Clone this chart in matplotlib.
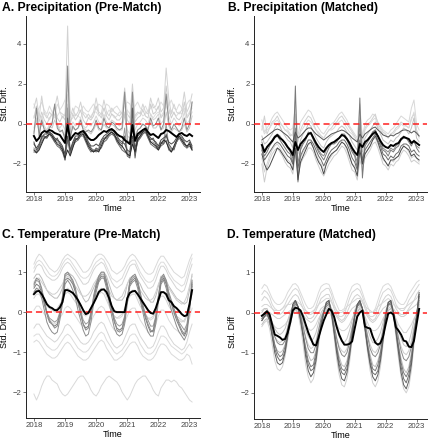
import numpy as np
import matplotlib
matplotlib.use("Agg")
import matplotlib.pyplot as plt

plt.rcParams["font.family"] = ["Liberation Sans", "DejaVu Sans"]

# Monthly time axis: Jan 2018 .. Feb 2023 (decimal years)
time = 2018 + np.arange(62) / 12
x_ticks = [2018, 2019, 2020, 2021, 2022, 2023]

# ---------------- A. Precipitation (Pre-Match) ----------------
precip_pre_mean = [
    -0.6, -0.85, -0.7, -0.45, -0.35, -0.4, -0.3, -0.35, -0.45, -0.5, -0.55, -0.75,
    -0.95, -0.05, -0.8, -0.6, -0.45, -0.5, -0.4, -0.35, -0.5, -0.7, -0.8, -0.8,
    -0.7, -0.55, -0.45, -0.35, -0.4, -0.3, -0.25, -0.35, -0.5, -0.6, -0.65, -0.8,
    -0.9, -1.0, -0.05, -0.85, -0.5, -0.4, -0.3, -0.22, -0.4, -0.55, -0.5, -0.6,
    -0.7, -0.5, -0.45, -0.3, -0.35, -0.45, -0.55, -0.65, -0.5, -0.45, -0.55, -0.6,
    -0.5, -0.6]
precip_pre_units = [
    [1.0, 0.6, 0.8, 1.1, 0.7, 0.5, 0.9, 0.6, 0.4, 1.0, 0.7, 0.9,
     1.2, 1.8, 0.6, 0.5, 0.9, 0.8, 0.6, 0.9, 0.7, 0.6, 0.8, 1.0,
     0.7, 1.0, 0.9, 0.7, 1.0, 0.9, 0.6, 0.8, 0.9, 0.7, 0.5, 0.9,
     1.1, 1.0, 0.7, 0.9, 1.1, 0.8, 0.7, 0.9, 0.6, 0.8, 1.0, 0.7,
     0.8, 1.1, 0.9, 1.4, 0.9, 1.2, 0.8, 0.7, 1.0, 0.8, 0.6, 1.0,
     1.2, 0.9],
    [0.4, 0.2, 0.5, 0.3, 0.6, 0.4, 0.2, 0.5, 0.3, 0.4, 0.6, 0.3,
     0.5, 0.9, 0.2, 0.3, 0.5, 0.4, 0.3, 0.6, 0.5, 0.3, 0.4, 0.6,
     0.6, 0.4, 0.5, 0.3, 0.5, 0.7, 0.5, 0.3, 0.4, 0.6, 0.5, 0.4,
     0.7, 0.5, 0.9, 0.3, 0.5, 0.6, 0.4, 0.5, 0.7, 0.5, 0.3, 0.5,
     0.6, 0.4, 0.6, 0.9, 0.5, 0.7, 0.5, 0.4, 0.6, 0.5, 0.8, 0.4,
     0.6, 0.8],
    [0.8, 1.3, 0.3, 1.4, 0.5, 0.3, 0.6, 0.4, 0.8, 1.4, 0.6, 0.5,
     0.4, 4.9, 0.3, 0.8, 0.4, 0.6, 1.1, 0.5, 0.3, 0.5, 0.3, 0.6,
     1.3, 0.6, 0.5, 1.2, 0.6, 0.4, 0.8, 0.6, 0.5, 0.4, 0.6, 1.8,
     0.5, 0.3, 2.0, 0.4, 0.6, 0.5, 1.0, 0.6, 0.5, 1.3, 0.8, 0.9,
     1.3, 0.6, 0.8, 2.8, 1.3, 0.5, 1.0, 0.6, 0.5, 0.7, 1.6, 0.6,
     0.9, 1.5],
    [0.3, 0.9, 0.1, 0.6, 0.2, 0.0, 0.3, 0.5, 0.9, 0.3, 0.1, 0.4,
     0.2, 2.2, 0.0, 0.5, 0.2, 0.4, 0.7, 0.2, 0.0, 0.3, 0.2, 0.4,
     0.9, 0.5, 0.3, 0.8, 0.4, 0.2, 0.5, 0.4, 0.2, 0.2, 0.4, 1.2,
     0.2, 0.0, 1.5, 0.1, 0.3, 0.4, 0.7, 0.4, 0.3, 1.0, 0.5, 0.6,
     0.9, 0.3, 0.5, 1.9, 0.8, 0.3, 0.6, 0.3, 0.2, 0.4, 1.1, 0.3,
     0.5, 1.1],
    [-0.2, 0.3, -0.3, 0.4, -0.1, -0.3, 0.0, 0.1, 0.5, 0.0, -0.2, 0.0,
     -0.3, 1.5, -0.4, 0.1, -0.1, 0.0, 0.3, -0.1, -0.2, 0.0, -0.1, 0.1,
     0.4, 0.1, 0.0, 0.5, 0.1, 0.0, 0.2, 0.1, 0.0, -0.1, 0.1, 0.6,
     -0.3, -0.5, 1.0, -0.3, 0.0, 0.1, 0.3, 0.2, 0.0, 0.5, 0.2, 0.3,
     0.5, 0.0, 0.2, 1.2, 0.4, 0.0, 0.3, 0.1, -0.1, 0.1, 0.6, 0.0,
     0.2, 0.6],
    [-0.4, 0.2, -0.4, 0.0, -0.2, -0.4, -0.1, -0.2, 0.2, -0.1, -0.3, -0.4,
     -0.6, 1.0, -0.5, -0.2, -0.3, -0.2, 0.0, -0.2, -0.3, -0.4, -0.5, -0.3,
     0.0, -0.3, -0.3, 0.0, -0.2, -0.2, 0.0, -0.1, -0.3, -0.3, -0.3, 0.5,
     -0.6, -0.7, 0.6, -0.6, -0.3, -0.2, 0.0, -0.1, -0.2, 0.1, -0.2, -0.2,
     0.0, -0.3, -0.2, 0.6, -0.1, -0.4, -0.2, -0.3, -0.4, -0.3, 0.0, -0.4,
     -0.2, 0.4],
    [-0.5, 0.8, -0.6, 0.2, -0.3, -0.5, -0.2, 0.0, 1.0, -0.2, -0.4, -0.3,
     -0.8, 2.9, -0.7, -0.1, -0.3, -0.2, 0.2, -0.3, -0.4, -0.3, -0.4, -0.2,
     0.2, -0.2, -0.3, 0.3, -0.1, -0.2, 0.1, 0.0, -0.2, -0.3, -0.2, 1.6,
     -0.8, -1.0, 1.6, -0.8, -0.3, -0.2, 0.0, -0.1, -0.3, 0.3, -0.1, 0.0,
     0.3, -0.3, 0.0, 1.5, 0.1, -0.3, 0.0, -0.2, -0.4, -0.2, 0.3, -0.3,
     0.0, 1.1],
    [-1.2, -1.4, -1.1, -0.8, -0.6, -0.7, -0.5, -0.6, -0.7, -0.9, -1.0, -1.2,
     -1.6, 0.8, -1.5, -1.1, -0.8, -0.7, -0.5, -0.5, -0.8, -1.0, -1.2, -1.3,
     -1.3, -1.2, -1.0, -0.8, -0.7, -0.5, -0.4, -0.5, -0.8, -1.0, -1.2, -0.2,
     -1.4, -1.5, 0.2, -1.6, -0.8, -0.7, -0.5, -0.4, -0.7, -0.9, -0.9, -1.1,
     -1.2, -1.0, -0.9, 0.0, -1.1, -1.3, -1.2, -0.9, -0.7, -0.8, -1.0, -1.1,
     -1.0, -1.2],
    [-0.9, -1.3, -1.1, -0.6, -0.6, -0.7, -0.4, -0.6, -0.9, -0.7, -1.0, -1.2,
     -1.8, 0.3, -1.4, -1.0, -0.7, -0.8, -0.6, -0.5, -0.7, -1.0, -1.2, -1.4,
     -1.2, -1.3, -0.9, -0.7, -0.7, -0.5, -0.4, -0.6, -0.7, -0.9, -1.0, -0.6,
     -1.6, -1.7, 0.8, -1.7, -0.7, -0.6, -0.4, -0.4, -0.6, -0.8, -0.7, -1.0,
     -1.2, -0.9, -1.0, -0.5, -1.0, -1.2, -1.3, -0.9, -0.6, -0.7, -0.9, -1.2,
     -0.9, -1.2],
    [-1.4, -1.4, -1.2, -0.9, -0.7, -0.7, -0.5, -0.7, -0.9, -1.1, -1.2, -1.4,
     -1.8, -0.8, -1.5, -1.1, -0.9, -0.8, -0.6, -0.6, -0.9, -1.2, -1.4, -1.3,
     -1.4, -1.3, -1.2, -0.9, -0.8, -0.6, -0.5, -0.6, -0.9, -1.1, -1.3, -1.4,
     -1.5, -1.6, -0.8, -1.5, -0.9, -0.7, -0.5, -0.4, -0.7, -1.0, -1.1, -1.2,
     -1.3, -1.1, -1.0, -0.8, -1.3, -1.4, -1.2, -0.9, -0.7, -0.9, -1.1, -1.2,
     -1.1, -1.3],
    [-1.0, -1.2, -1.0, -0.7, -0.5, -0.5, -0.4, -0.5, -0.7, -0.8, -0.9, -1.1,
     -1.5, -0.6, -1.3, -0.9, -0.6, -0.6, -0.4, -0.4, -0.6, -0.9, -1.1, -1.1,
     -1.0, -1.1, -0.8, -0.6, -0.5, -0.4, -0.3, -0.4, -0.6, -0.8, -0.9, -1.0,
     -1.3, -1.4, -0.6, -1.2, -0.6, -0.5, -0.3, -0.25, -0.5, -0.7, -0.8, -0.9,
     -1.1, -0.8, -0.7, -0.6, -0.9, -1.0, -0.9, -0.7, -0.5, -0.6, -0.8, -0.9,
     -0.8, -1.1],
    [-1.3, -1.45, -1.3, -1.0, -0.7, -0.6, -0.5, -0.6, -0.8, -1.0, -1.1, -1.3,
     -1.7, -1.3, -1.6, -1.2, -0.8, -0.7, -0.5, -0.5, -0.8, -1.1, -1.3, -1.4,
     -1.3, -1.4, -1.1, -0.8, -0.6, -0.5, -0.4, -0.5, -0.8, -1.0, -1.1, -1.3,
     -1.5, -1.6, -1.0, -1.4, -0.8, -0.6, -0.4, -0.3, -0.6, -0.9, -1.0, -1.1,
     -1.3, -1.0, -0.8, -0.9, -1.2, -1.4, -1.1, -0.8, -0.6, -0.8, -1.0, -1.1,
     -1.0, -1.3],
]
precip_pre_colors = ["#dcdcdc", "#dedede", "#d2d2d2", "#cdcdcd", "#d6d6d6",
                     "#c8c8c8", "#8a8a8a", "#9a9a9a", "#5a5a5a", "#6a6a6a",
                     "#4a4a4a", "#2a2a2a"]

# ---------------- B. Precipitation (Matched) ----------------
precip_match_mean = [
    -1.05, -1.4, -1.15, -1.0, -0.85, -0.65, -0.55, -0.7, -0.8, -0.95, -1.15, -1.3,
    -1.55, -0.9, -1.3, -1.0, -0.85, -0.7, -0.5, -0.45, -0.7, -0.95, -1.15, -1.3,
    -1.4, -1.2, -1.05, -0.95, -0.9, -0.8, -0.7, -0.55, -0.6, -0.75, -0.95, -1.2,
    -1.4, -1.55, -1.0, -1.15, -0.9, -0.8, -0.65, -0.5, -0.4, -0.6, -0.85, -1.05,
    -1.15, -1.2, -1.05, -1.1, -1.0, -0.95, -0.75, -0.65, -0.7, -0.75, -0.95, -0.85,
    -0.95, -1.05]
precip_match_units = [
    [0.2, -0.4, -0.2, 0.0, 0.3, 0.5, 0.6, 0.4, 0.2, 0.0, -0.2, -0.3,
     -0.2, 0.8, -0.6, 0.1, 0.3, 0.5, 0.7, 0.6, 0.3, 0.0, -0.2, -0.4,
     -0.5, -0.3, -0.1, 0.0, 0.1, 0.3, 0.5, 0.6, 0.4, 0.2, -0.1, -0.3,
     -0.5, -0.7, 0.6, -0.6, 0.0, 0.2, 0.3, 0.5, 0.4, 0.1, -0.1, -0.3,
     -0.4, -0.5, -0.3, -0.2, 0.0, 0.2, 0.4, 0.3, 0.2, 0.1, 0.8, 1.2,
     0.0, -0.3],
    [-0.3, 0.4, -0.5, -0.2, 0.1, 0.2, 0.4, 0.1, -0.1, -0.3, -0.4, -0.6,
     -0.5, 1.2, -0.9, -0.3, 0.0, 0.2, 0.4, 0.3, 0.0, -0.3, -0.5, -0.6,
     -0.7, -0.5, -0.3, -0.2, 0.0, 0.1, 0.3, 0.4, 0.2, 0.0, -0.2, -0.4,
     -0.6, -0.9, 1.0, -1.0, -0.2, 0.0, 0.1, 0.3, 0.5, 0.0, -0.2, -0.4,
     -0.5, -0.7, -0.5, -0.4, -0.2, -0.1, 0.1, 0.0, -0.1, -0.2, 0.3, 0.5,
     -0.3, -0.6],
    [-0.1, -0.5, -0.3, -0.2, 0.0, 0.1, 0.2, 0.0, -0.1, -0.3, -0.3, -0.5,
     -0.6, 0.4, -0.8, -0.4, -0.2, 0.0, 0.2, 0.1, -0.1, -0.3, -0.4, -0.6,
     -0.7, -0.5, -0.3, -0.3, -0.2, 0.0, 0.1, 0.2, 0.0, -0.2, -0.4, -0.5,
     -0.7, -0.8, 0.4, -0.9, -0.3, -0.1, 0.0, 0.2, 0.3, -0.1, -0.3, -0.5,
     -0.6, -0.7, -0.5, -0.5, -0.3, -0.2, 0.0, -0.1, -0.1, -0.2, 0.2, 0.6,
     -0.4, -0.7],
    [-0.6, -1.0, -0.9, -0.7, -0.5, -0.2, 0.0, -0.1, -0.4, -0.6, -0.8, -0.9,
     -1.2, 0.5, -1.5, -0.8, -0.5, -0.3, 0.0, -0.1, -0.4, -0.7, -0.9, -1.1,
     -1.2, -0.9, -0.7, -0.6, -0.5, -0.4, -0.2, -0.1, -0.2, -0.4, -0.6, -0.9,
     -1.1, -1.3, 0.3, -1.4, -0.7, -0.5, -0.3, -0.1, 0.1, -0.2, -0.5, -0.8,
     -0.9, -1.0, -0.8, -0.9, -0.7, -0.6, -0.4, -0.2, -0.3, -0.5, -0.2, 0.3,
     -0.7, -0.9],
    [-2.0, -2.9, -2.2, -1.8, -1.5, -1.3, -1.2, -1.4, -1.6, -1.9, -2.1, -2.2,
     -2.5, -1.5, -2.6, -2.0, -1.7, -1.5, -1.2, -1.2, -1.4, -1.8, -2.1, -2.4,
     -2.6, -2.3, -2.0, -1.8, -1.6, -1.5, -1.3, -1.1, -1.2, -1.5, -1.9, -2.3,
     -2.4, -2.8, -1.8, -2.2, -1.7, -1.5, -1.3, -1.0, -0.9, -1.2, -1.6, -2.0,
     -2.1, -2.3, -2.0, -2.1, -1.9, -1.8, -1.5, -1.3, -1.4, -1.6, -1.9, -1.8,
     -1.9, -2.0],
    [-1.7, -2.4, -2.0, -1.6, -1.3, -1.1, -1.0, -1.2, -1.4, -1.6, -1.8, -1.9,
     -2.2, -1.0, -2.4, -1.7, -1.4, -1.2, -1.0, -1.0, -1.2, -1.5, -1.8, -2.0,
     -2.3, -2.0, -1.8, -1.6, -1.4, -1.3, -1.1, -0.9, -1.0, -1.3, -1.7, -2.0,
     -2.1, -2.5, -1.4, -2.4, -1.5, -1.3, -1.1, -0.8, -0.7, -1.0, -1.4, -1.8,
     -1.9, -2.1, -1.8, -1.9, -1.7, -1.6, -1.3, -1.1, -1.2, -1.4, -1.7, -1.6,
     -1.7, -1.9],
    [-0.9, -1.3, -1.2, -1.0, -0.8, -0.6, -0.5, -0.6, -0.8, -1.0, -1.2, -1.4,
     -1.7, -0.2, -2.0, -1.2, -0.9, -0.7, -0.5, -0.4, -0.7, -1.0, -1.3, -1.5,
     -1.6, -1.3, -1.1, -1.0, -0.9, -0.8, -0.7, -0.5, -0.5, -0.7, -1.0, -1.3,
     -1.5, -1.9, 0.0, -2.0, -1.0, -0.8, -0.6, -0.4, -0.3, -0.6, -0.9, -1.2,
     -1.3, -1.4, -1.2, -1.3, -1.1, -1.0, -0.8, -0.6, -0.7, -0.8, -1.0, -0.9,
     -1.1, -1.2],
    [-1.2, -1.6, -1.4, -1.1, -0.9, -0.7, -0.6, -0.8, -1.0, -1.2, -1.4, -1.5,
     -2.0, 1.9, -2.9, -1.3, -1.0, -0.8, -0.4, -0.5, -0.8, -1.1, -1.4, -1.6,
     -1.8, -1.5, -1.2, -1.0, -1.0, -0.9, -0.7, -0.5, -0.6, -0.8, -1.1, -1.4,
     -1.6, -2.2, 1.3, -2.7, -1.1, -0.9, -0.7, -0.4, -0.3, -0.6, -1.0, -1.3,
     -1.4, -1.6, -1.3, -1.4, -1.2, -1.1, -0.8, -0.7, -0.7, -0.9, -1.1, -0.8,
     -1.2, -1.4],
    [-1.3, -1.8, -1.6, -1.4, -1.2, -1.0, -0.9, -1.0, -1.2, -1.4, -1.6, -1.7,
     -2.0, -0.5, -2.2, -1.6, -1.3, -1.1, -0.8, -0.8, -1.0, -1.3, -1.6, -1.8,
     -2.1, -1.8, -1.5, -1.3, -1.2, -1.1, -0.9, -0.8, -0.8, -1.0, -1.3, -1.7,
     -1.9, -2.3, -0.8, -1.8, -1.3, -1.1, -0.9, -0.7, -0.5, -0.8, -1.1, -1.5,
     -1.6, -1.8, -1.6, -1.7, -1.5, -1.4, -1.1, -1.0, -1.0, -1.1, -1.4, -1.3,
     -1.5, -1.6],
    [-1.5, -2.0, -2.3, -2.1, -1.8, -1.5, -1.2, -1.3, -1.5, -1.7, -1.9, -2.0,
     -2.3, -1.2, -2.8, -1.9, -1.6, -1.3, -1.0, -0.9, -1.2, -1.6, -1.9, -2.1,
     -2.5, -2.0, -1.7, -1.5, -1.4, -1.3, -1.1, -0.9, -1.0, -1.2, -1.6, -2.0,
     -2.2, -2.6, -1.3, -2.0, -1.5, -1.3, -1.1, -0.8, -0.6, -0.9, -1.3, -1.7,
     -1.9, -2.1, -1.8, -1.8, -1.7, -1.6, -1.3, -1.1, -1.2, -1.3, -1.6, -1.5,
     -1.7, -1.8],
    [-0.8, -0.7, -0.6, -0.5, -0.4, -0.3, -0.25, -0.3, -0.4, -0.5, -0.6, -0.75,
     -0.9, -0.4, -0.7, -0.6, -0.45, -0.3, -0.2, -0.2, -0.35, -0.5, -0.6, -0.7,
     -0.8, -0.7, -0.6, -0.5, -0.45, -0.4, -0.35, -0.3, -0.35, -0.45, -0.55, -0.7,
     -0.8, -0.9, -0.5, -0.7, -0.5, -0.4, -0.3, -0.2, -0.15, -0.3, -0.4, -0.55,
     -0.6, -0.65, -0.55, -0.6, -0.5, -0.45, -0.35, -0.3, -0.3, -0.35, -0.45, -0.35,
     -0.45, -0.6],
]
precip_match_colors = ["#d8d8d8", "#d0d0d0", "#dadada", "#c0c0c0", "#cccccc",
                       "#d4d4d4", "#8a8a8a", "#7a7a7a", "#6a6a6a", "#4a4a4a",
                       "#555555"]

# ---------------- C. Temperature (Pre-Match) ----------------
temp_pre_mean = [
    0.45, 0.52, 0.53, 0.45, 0.33, 0.2, 0.13, 0.1, 0.05, 0.05, 0.12, 0.25,
    0.55, 0.55, 0.52, 0.48, 0.4, 0.3, 0.18, 0.05, -0.05, -0.02, 0.1, 0.22,
    0.35, 0.5, 0.56, 0.57, 0.5, 0.35, 0.15, 0.02, 0.0, 0.0, 0.0, 0.0,
    0.35, 0.48, 0.52, 0.53, 0.45, 0.35, 0.25, 0.15, 0.05, -0.02, -0.04, 0.1,
    0.3, 0.5, 0.5, 0.45, 0.3, 0.25, 0.15, 0.1, 0.03, -0.05, -0.1, -0.08,
    0.2, 0.55]
temp_pre_units = [
    [1.2, 1.35, 1.45, 1.4, 1.3, 1.2, 1.1, 1.05, 1.0, 1.05, 1.15, 1.3,
     1.4, 1.45, 1.4, 1.35, 1.3, 1.2, 1.1, 1.0, 1.0, 1.05, 1.15, 1.3,
     1.4, 1.45, 1.45, 1.4, 1.3, 1.2, 1.05, 1.0, 0.95, 1.0, 1.05, 1.15,
     1.3, 1.4, 1.45, 1.4, 1.3, 1.2, 1.1, 1.0, 0.95, 0.95, 1.0, 1.15,
     1.3, 1.4, 1.4, 1.3, 1.2, 1.1, 1.0, 0.95, 0.9, 0.85, 0.9, 1.1,
     1.3, 1.45],
    [1.1, 1.25, 1.3, 1.25, 1.15, 1.05, 0.95, 0.9, 0.9, 0.95, 1.05, 1.2,
     1.3, 1.35, 1.3, 1.2, 1.1, 1.0, 0.9, 0.85, 0.85, 0.9, 1.0, 1.15,
     1.25, 1.3, 1.35, 1.3, 1.15, 1.0, 0.85, 0.8, 0.75, 0.8, 0.85, 1.0,
     1.15, 1.25, 1.3, 1.3, 1.15, 1.0, 0.9, 0.8, 0.75, 0.75, 0.8, 0.95,
     1.15, 1.25, 1.25, 1.15, 1.0, 0.9, 0.8, 0.75, 0.7, 0.65, 0.7, 0.9,
     1.15, 1.35],
    [1.0, 1.15, 1.2, 1.15, 1.0, 0.9, 0.85, 0.8, 0.8, 0.85, 0.95, 1.1,
     1.2, 1.25, 1.2, 1.1, 1.0, 0.9, 0.8, 0.7, 0.7, 0.75, 0.9, 1.05,
     1.15, 1.2, 1.25, 1.2, 1.05, 0.9, 0.75, 0.65, 0.6, 0.65, 0.7, 0.85,
     1.0, 1.15, 1.2, 1.2, 1.05, 0.9, 0.8, 0.7, 0.6, 0.6, 0.65, 0.8,
     1.0, 1.15, 1.15, 1.05, 0.9, 0.8, 0.7, 0.6, 0.55, 0.5, 0.55, 0.75,
     1.0, 1.2],
    [0.85, 0.95, 0.95, 0.85, 0.7, 0.55, 0.45, 0.4, 0.35, 0.35, 0.45, 0.6,
     0.95, 1.0, 0.95, 0.9, 0.8, 0.65, 0.5, 0.35, 0.25, 0.3, 0.45, 0.6,
     0.75, 0.9, 1.0, 1.0, 0.9, 0.7, 0.5, 0.35, 0.3, 0.3, 0.3, 0.4,
     0.7, 0.85, 0.9, 0.9, 0.8, 0.7, 0.55, 0.45, 0.35, 0.25, 0.25, 0.4,
     0.65, 0.9, 0.9, 0.8, 0.65, 0.55, 0.45, 0.35, 0.3, 0.25, 0.2, 0.25,
     0.55, 0.95],
    [0.75, 0.85, 0.85, 0.75, 0.65, 0.55, 0.5, 0.45, 0.45, 0.5, 0.6, 0.7,
     0.85, 0.9, 0.85, 0.75, 0.65, 0.55, 0.45, 0.4, 0.4, 0.45, 0.55, 0.7,
     0.8, 0.9, 0.9, 0.85, 0.7, 0.55, 0.4, 0.35, 0.3, 0.35, 0.4, 0.55,
     0.7, 0.85, 0.9, 0.85, 0.7, 0.55, 0.45, 0.35, 0.3, 0.3, 0.35, 0.5,
     0.7, 0.85, 0.85, 0.75, 0.6, 0.5, 0.4, 0.3, 0.25, 0.2, 0.25, 0.4,
     0.65, 0.9],
    [0.5, 0.6, 0.6, 0.5, 0.35, 0.2, 0.1, 0.05, 0.0, 0.05, 0.15, 0.3,
     0.55, 0.6, 0.55, 0.45, 0.35, 0.2, 0.05, -0.05, -0.1, -0.05, 0.1, 0.3,
     0.45, 0.55, 0.6, 0.55, 0.4, 0.2, 0.0, -0.1, -0.15, -0.15, -0.1, 0.05,
     0.3, 0.5, 0.55, 0.55, 0.4, 0.25, 0.1, -0.05, -0.15, -0.2, -0.15, 0.0,
     0.3, 0.5, 0.5, 0.4, 0.25, 0.1, 0.0, -0.1, -0.15, -0.2, -0.25, -0.1,
     0.2, 0.5],
    [0.35, 0.45, 0.45, 0.35, 0.25, 0.15, 0.1, 0.05, 0.05, 0.1, 0.2, 0.3,
     0.45, 0.5, 0.45, 0.35, 0.25, 0.15, 0.05, 0.0, -0.05, 0.0, 0.1, 0.25,
     0.35, 0.45, 0.5, 0.45, 0.3, 0.15, 0.0, -0.1, -0.15, -0.1, -0.05, 0.1,
     0.25, 0.4, 0.45, 0.45, 0.3, 0.15, 0.05, -0.05, -0.15, -0.15, -0.1, 0.05,
     0.25, 0.4, 0.4, 0.3, 0.15, 0.05, -0.05, -0.15, -0.2, -0.25, -0.2, -0.05,
     0.2, 0.45],
    [0.05, 0.15, 0.15, 0.05, -0.05, -0.15, -0.2, -0.25, -0.3, -0.25, -0.15, -0.05,
     0.1, 0.15, 0.1, 0.0, -0.1, -0.2, -0.3, -0.35, -0.4, -0.35, -0.25, -0.1,
     0.0, 0.1, 0.15, 0.1, -0.05, -0.2, -0.35, -0.45, -0.5, -0.45, -0.4, -0.25,
     -0.1, 0.05, 0.1, 0.1, -0.05, -0.2, -0.3, -0.4, -0.5, -0.5, -0.45, -0.3,
     -0.1, 0.05, 0.05, -0.05, -0.2, -0.3, -0.4, -0.45, -0.5, -0.55, -0.5, -0.35,
     -0.15, 0.1],
    [-0.4, -0.3, -0.3, -0.4, -0.5, -0.6, -0.65, -0.7, -0.75, -0.7, -0.6, -0.5,
     -0.35, -0.3, -0.35, -0.45, -0.55, -0.65, -0.75, -0.8, -0.8, -0.75, -0.65, -0.5,
     -0.4, -0.3, -0.25, -0.3, -0.45, -0.6, -0.75, -0.85, -0.9, -0.85, -0.8, -0.65,
     -0.5, -0.35, -0.3, -0.3, -0.45, -0.6, -0.7, -0.8, -0.9, -0.9, -0.85, -0.7,
     -0.5, -0.35, -0.35, -0.45, -0.6, -0.7, -0.8, -0.85, -0.9, -0.95, -0.9, -0.75,
     -0.5, -0.3],
    [-0.6, -0.55, -0.55, -0.65, -0.75, -0.85, -0.9, -0.95, -0.95, -0.9, -0.8, -0.7,
     -0.6, -0.55, -0.6, -0.7, -0.8, -0.9, -0.95, -1.0, -1.0, -0.95, -0.85, -0.75,
     -0.65, -0.55, -0.5, -0.55, -0.7, -0.8, -0.9, -1.0, -1.05, -1.0, -0.95, -0.85,
     -0.75, -0.6, -0.55, -0.55, -0.65, -0.8, -0.9, -1.0, -1.05, -1.05, -1.0, -0.9,
     -0.75, -0.6, -0.6, -0.65, -0.75, -0.85, -0.9, -0.95, -1.0, -1.05, -1.0, -0.9,
     -0.8, -0.9],
    [-0.75, -0.7, -0.75, -0.85, -0.95, -1.05, -1.1, -1.15, -1.15, -1.1, -1.0, -0.9,
     -0.8, -0.75, -0.8, -0.9, -1.0, -1.1, -1.15, -1.2, -1.2, -1.15, -1.05, -0.95,
     -0.85, -0.75, -0.7, -0.75, -0.9, -1.0, -1.1, -1.2, -1.2, -1.15, -1.1, -1.0,
     -0.9, -0.8, -0.75, -0.75, -0.85, -1.0, -1.1, -1.15, -1.2, -1.2, -1.15, -1.05,
     -0.9, -0.8, -0.8, -0.85, -0.95, -1.05, -1.1, -1.15, -1.2, -1.2, -1.15, -1.05,
     -1.1, -1.3],
    [-2.05, -2.2, -2.05, -1.85, -1.7, -1.6, -1.6, -1.7, -1.75, -1.8, -1.95, -2.05,
     -2.1, -2.05, -1.95, -1.85, -1.75, -1.65, -1.6, -1.6, -1.7, -1.8, -1.95, -2.05,
     -2.1, -2.0, -1.85, -1.75, -1.65, -1.6, -1.65, -1.7, -1.75, -1.85, -2.0, -2.1,
     -2.2, -2.1, -1.95, -1.8, -1.7, -1.65, -1.6, -1.6, -1.7, -1.8, -1.95, -2.05,
     -2.1, -1.9, -1.8, -1.7, -1.7, -1.75, -1.7, -1.75, -1.85, -1.9, -2.0, -2.1,
     -2.2, -2.25],
    [0.5, 0.6, 0.55, 0.35, 0.05, -0.25, -0.4, -0.5, -0.55, -0.5, -0.2, 0.2,
     0.7, 0.8, 0.7, 0.55, 0.35, 0.05, -0.2, -0.45, -0.6, -0.55, -0.25, 0.2,
     0.5, 0.75, 0.85, 0.85, 0.6, 0.25, -0.1, -0.4, -0.55, -0.6, -0.55, -0.3,
     0.2, 0.65, 0.75, 0.8, 0.6, 0.3, 0.0, -0.3, -0.5, -0.6, -0.6, -0.3,
     0.25, 0.7, 0.8, 0.6, 0.3, 0.05, -0.15, -0.35, -0.5, -0.6, -0.7, -0.55,
     0.0, 0.65],
    [0.65, 0.8, 0.75, 0.55, 0.25, 0.0, -0.15, -0.2, -0.25, -0.2, 0.0, 0.35,
     0.9, 0.95, 0.9, 0.75, 0.55, 0.3, 0.05, -0.2, -0.3, -0.25, 0.0, 0.35,
     0.65, 0.85, 0.95, 0.95, 0.75, 0.45, 0.1, -0.15, -0.3, -0.35, -0.3, -0.1,
     0.35, 0.75, 0.85, 0.9, 0.75, 0.45, 0.15, -0.05, -0.2, -0.35, -0.35, -0.1,
     0.4, 0.8, 0.9, 0.75, 0.45, 0.25, 0.05, -0.1, -0.25, -0.35, -0.45, -0.3,
     0.15, 0.75],
    [0.6, 0.7, 0.65, 0.5, 0.2, -0.05, -0.25, -0.3, -0.35, -0.3, -0.05, 0.3,
     0.8, 0.85, 0.8, 0.7, 0.5, 0.25, -0.05, -0.3, -0.4, -0.35, -0.05, 0.3,
     0.6, 0.8, 0.9, 0.9, 0.7, 0.4, 0.05, -0.25, -0.4, -0.45, -0.4, -0.15,
     0.3, 0.7, 0.8, 0.85, 0.7, 0.4, 0.1, -0.15, -0.35, -0.5, -0.45, -0.15,
     0.35, 0.75, 0.85, 0.7, 0.4, 0.2, 0.0, -0.2, -0.35, -0.5, -0.6, -0.45,
     0.1, 0.7],
    [0.7, 0.85, 0.8, 0.6, 0.3, 0.0, -0.2, -0.3, -0.4, -0.35, -0.1, 0.4,
     0.95, 1.0, 0.9, 0.8, 0.6, 0.3, 0.0, -0.3, -0.45, -0.4, -0.1, 0.4,
     0.7, 0.9, 1.0, 1.0, 0.8, 0.5, 0.1, -0.2, -0.45, -0.5, -0.45, -0.2,
     0.3, 0.8, 0.9, 0.95, 0.8, 0.5, 0.2, -0.1, -0.3, -0.45, -0.5, -0.2,
     0.4, 0.85, 0.95, 0.8, 0.5, 0.3, 0.1, -0.1, -0.3, -0.45, -0.55, -0.4,
     0.2, 0.8],
]
temp_pre_colors = ["#d9d9d9", "#dcdcdc", "#d4d4d4", "#bcbcbc", "#cfcfcf",
                   "#d6d6d6", "#d2d2d2", "#dadada", "#d6d6d6", "#dcdcdc",
                   "#dadada", "#d9d9d9", "#8c8c8c", "#9a9a9a", "#7d7d7d",
                   "#8a8a8a"]

# ---------------- D. Temperature (Matched) ----------------
temp_match_mean = [
    -0.08, -0.03, 0.03, -0.05, -0.3, -0.55, -0.58, -0.62, -0.68, -0.66, -0.5, -0.25,
    0.05, 0.12, 0.1, 0.05, -0.1, -0.3, -0.5, -0.65, -0.8, -0.82, -0.62, -0.4,
    -0.2, -0.05, 0.09, 0.05, -0.1, -0.35, -0.55, -0.7, -0.8, -0.8, -0.78, -0.72,
    -0.4, -0.1, 0.0, 0.05, -0.35, -0.38, -0.4, -0.6, -0.75, -0.8, -0.76, -0.6,
    -0.3, -0.03, 0.0, -0.05, -0.37, -0.45, -0.55, -0.7, -0.72, -0.85, -0.86, -0.7,
    -0.3, 0.09]
temp_match_units = [
    [0.6, 0.7, 0.65, 0.5, 0.35, 0.25, 0.2, 0.2, 0.25, 0.35, 0.5, 0.6,
     0.7, 0.72, 0.65, 0.5, 0.35, 0.2, 0.1, 0.1, 0.15, 0.3, 0.5, 0.65,
     0.7, 0.72, 0.7, 0.55, 0.35, 0.2, 0.05, 0.05, 0.1, 0.3, 0.5, 0.65,
     0.7, 0.72, 0.68, 0.5, 0.3, 0.15, 0.0, 0.0, 0.1, 0.3, 0.5, 0.65,
     0.7, 0.72, 0.65, 0.5, 0.35, 0.25, 0.2, 0.2, 0.3, 0.45, 0.55, 0.65,
     0.75, 0.8],
    [0.45, 0.55, 0.5, 0.4, 0.2, 0.1, 0.05, 0.05, 0.1, 0.2, 0.35, 0.45,
     0.55, 0.6, 0.55, 0.4, 0.2, 0.05, -0.05, -0.05, 0.0, 0.15, 0.35, 0.5,
     0.55, 0.6, 0.6, 0.45, 0.2, 0.05, -0.1, -0.1, -0.05, 0.15, 0.35, 0.5,
     0.55, 0.6, 0.55, 0.4, 0.2, 0.0, -0.1, -0.1, -0.05, 0.15, 0.35, 0.5,
     0.55, 0.6, 0.55, 0.4, 0.2, 0.1, 0.05, 0.05, 0.15, 0.3, 0.4, 0.5,
     0.6, 0.7],
    [0.3, 0.4, 0.35, 0.25, 0.1, 0.0, -0.05, -0.05, 0.0, 0.1, 0.2, 0.3,
     0.4, 0.45, 0.4, 0.25, 0.1, -0.05, -0.15, -0.15, -0.1, 0.05, 0.2, 0.35,
     0.4, 0.45, 0.45, 0.3, 0.1, -0.05, -0.15, -0.2, -0.15, 0.0, 0.15, 0.3,
     0.4, 0.45, 0.4, 0.3, 0.1, -0.05, -0.15, -0.2, -0.15, 0.0, 0.15, 0.3,
     0.4, 0.45, 0.4, 0.25, 0.1, 0.0, -0.05, -0.05, 0.0, 0.1, 0.2, 0.3,
     0.45, 0.55],
    [0.15, 0.2, 0.2, 0.15, 0.1, 0.05, 0.05, 0.05, 0.1, 0.15, 0.2, 0.2,
     0.25, 0.3, 0.25, 0.2, 0.1, 0.05, 0.0, 0.0, 0.05, 0.1, 0.2, 0.25,
     0.3, 0.35, 0.35, 0.25, 0.15, 0.05, 0.0, 0.0, 0.05, 0.15, 0.2, 0.25,
     0.3, 0.35, 0.35, 0.25, 0.15, 0.1, 0.05, 0.0, 0.05, 0.15, 0.2, 0.25,
     0.3, 0.35, 0.3, 0.2, 0.15, 0.1, 0.1, 0.1, 0.15, 0.2, 0.25, 0.3,
     0.35, 0.45],
    [0.05, 0.1, 0.05, 0.0, -0.05, -0.1, -0.15, -0.15, -0.1, -0.05, 0.0, 0.05,
     0.1, 0.15, 0.1, 0.05, -0.05, -0.15, -0.2, -0.25, -0.2, -0.1, 0.0, 0.1,
     0.15, 0.2, 0.2, 0.1, 0.0, -0.1, -0.2, -0.25, -0.2, -0.1, 0.0, 0.1,
     0.15, 0.2, 0.2, 0.1, 0.0, -0.1, -0.2, -0.25, -0.2, -0.1, 0.0, 0.1,
     0.15, 0.2, 0.2, 0.1, 0.0, -0.05, -0.1, -0.1, -0.05, 0.05, 0.1, 0.15,
     0.2, 0.3],
    [-0.2, -0.1, -0.1, -0.15, -0.25, -0.35, -0.4, -0.4, -0.35, -0.3, -0.2, -0.1,
     0.0, 0.05, 0.0, -0.1, -0.2, -0.3, -0.4, -0.45, -0.4, -0.3, -0.15, -0.05,
     0.0, 0.05, 0.1, 0.0, -0.15, -0.3, -0.4, -0.45, -0.45, -0.4, -0.3, -0.15,
     -0.05, 0.05, 0.1, 0.05, -0.1, -0.25, -0.4, -0.45, -0.45, -0.4, -0.3, -0.15,
     -0.05, 0.05, 0.1, 0.0, -0.15, -0.3, -0.4, -0.5, -0.5, -0.4, -0.3, -0.15,
     -0.05, 0.15],
    [0.0, 0.1, 0.1, -0.05, -0.25, -0.4, -0.5, -0.55, -0.5, -0.4, -0.2, 0.0,
     0.15, 0.2, 0.15, 0.0, -0.2, -0.45, -0.6, -0.7, -0.65, -0.5, -0.25, 0.0,
     0.1, 0.2, 0.25, 0.1, -0.15, -0.4, -0.6, -0.7, -0.75, -0.65, -0.45, -0.2,
     0.05, 0.2, 0.25, 0.1, -0.15, -0.4, -0.6, -0.75, -0.75, -0.65, -0.5, -0.25,
     0.05, 0.2, 0.25, 0.05, -0.2, -0.45, -0.65, -0.8, -0.85, -0.75, -0.5, -0.2,
     0.0, 0.35],
    [-0.15, -0.05, 0.0, -0.15, -0.4, -0.6, -0.7, -0.75, -0.7, -0.6, -0.35, -0.1,
     0.05, 0.15, 0.1, -0.1, -0.35, -0.6, -0.8, -0.9, -0.85, -0.7, -0.4, -0.1,
     0.0, 0.1, 0.15, 0.0, -0.3, -0.6, -0.85, -0.95, -1.0, -0.9, -0.65, -0.35,
     -0.1, 0.1, 0.15, 0.05, -0.25, -0.55, -0.8, -0.95, -1.0, -0.9, -0.7, -0.4,
     -0.1, 0.1, 0.15, 0.0, -0.3, -0.6, -0.85, -1.0, -1.05, -0.95, -0.7, -0.35,
     -0.1, 0.25],
    [-0.3, -0.2, -0.15, -0.3, -0.55, -0.8, -0.95, -1.0, -0.95, -0.8, -0.55, -0.3,
     0.0, 0.1, 0.0, -0.25, -0.55, -0.85, -1.05, -1.2, -1.15, -0.95, -0.6, -0.3,
     -0.1, 0.05, 0.1, -0.1, -0.45, -0.8, -1.1, -1.3, -1.35, -1.2, -0.9, -0.55,
     -0.2, 0.0, 0.1, 0.0, -0.35, -0.75, -1.05, -1.3, -1.35, -1.2, -0.95, -0.6,
     -0.2, 0.05, 0.1, -0.1, -0.45, -0.8, -1.15, -1.4, -1.5, -1.35, -1.0, -0.55,
     -0.2, 0.2],
    [-0.35, -0.25, -0.2, -0.4, -0.8, -1.2, -1.4, -1.45, -1.35, -1.1, -0.7, -0.35,
     0.05, 0.15, 0.0, -0.35, -0.8, -1.3, -1.6, -1.75, -1.65, -1.3, -0.8, -0.35,
     -0.1, 0.1, 0.15, -0.1, -0.6, -1.15, -1.55, -1.8, -1.85, -1.65, -1.25, -0.7,
     -0.25, 0.1, 0.15, 0.0, -0.5, -1.0, -1.45, -1.75, -1.85, -1.7, -1.35, -0.8,
     -0.2, 0.15, 0.2, -0.1, -0.6, -1.15, -1.6, -1.9, -2.0, -1.85, -1.45, -0.8,
     -0.2, 0.4],
    [-0.1, 0.0, 0.05, -0.1, -0.35, -0.6, -0.75, -0.8, -0.8, -0.7, -0.4, -0.1,
     0.1, 0.2, 0.15, -0.05, -0.35, -0.65, -0.9, -1.0, -1.0, -0.8, -0.45, -0.15,
     0.05, 0.15, 0.2, 0.05, -0.3, -0.65, -0.9, -1.05, -1.1, -1.0, -0.75, -0.4,
     -0.05, 0.15, 0.2, 0.1, -0.25, -0.6, -0.9, -1.05, -1.1, -1.0, -0.8, -0.45,
     -0.05, 0.2, 0.2, 0.0, -0.3, -0.65, -0.95, -1.15, -1.2, -1.1, -0.85, -0.45,
     -0.1, 0.3],
    [-0.15, -0.05, 0.0, -0.15, -0.45, -0.8, -1.0, -1.1, -1.05, -0.85, -0.5, -0.15,
     0.15, 0.25, 0.15, -0.1, -0.5, -0.9, -1.2, -1.35, -1.3, -1.0, -0.6, -0.25,
     0.0, 0.2, 0.25, 0.0, -0.4, -0.85, -1.2, -1.4, -1.45, -1.3, -0.95, -0.5,
     -0.1, 0.15, 0.25, 0.1, -0.35, -0.8, -1.15, -1.4, -1.45, -1.3, -1.0, -0.6,
     -0.1, 0.2, 0.25, 0.0, -0.4, -0.85, -1.25, -1.5, -1.6, -1.45, -1.1, -0.6,
     -0.1, 0.4],
    [-0.2, -0.1, -0.05, -0.2, -0.55, -0.9, -1.1, -1.2, -1.15, -0.95, -0.55, -0.2,
     0.2, 0.3, 0.15, -0.15, -0.55, -1.0, -1.3, -1.45, -1.4, -1.1, -0.65, -0.3,
     0.0, 0.25, 0.3, 0.0, -0.45, -0.9, -1.3, -1.5, -1.55, -1.4, -1.0, -0.55,
     -0.1, 0.2, 0.3, 0.1, -0.4, -0.85, -1.25, -1.5, -1.55, -1.45, -1.1, -0.65,
     -0.1, 0.25, 0.3, 0.0, -0.45, -0.9, -1.35, -1.65, -1.75, -1.55, -1.2, -0.65,
     -0.1, 0.45],
    [-0.2, -0.1, 0.0, -0.2, -0.6, -1.0, -1.25, -1.3, -1.25, -1.0, -0.6, -0.2,
     0.2, 0.3, 0.15, -0.2, -0.6, -1.1, -1.45, -1.6, -1.5, -1.2, -0.7, -0.3,
     0.0, 0.25, 0.3, 0.0, -0.5, -1.0, -1.4, -1.65, -1.7, -1.5, -1.1, -0.6,
     -0.1, 0.2, 0.3, 0.1, -0.4, -0.9, -1.3, -1.6, -1.7, -1.55, -1.2, -0.7,
     -0.1, 0.25, 0.3, 0.0, -0.5, -1.0, -1.5, -1.8, -1.9, -1.7, -1.3, -0.7,
     -0.1, 0.5],
]
temp_match_colors = ["#dadada", "#d6d6d6", "#d2d2d2", "#d6d6d6", "#d0d0d0",
                     "#d4d4d4", "#c4c4c4", "#cccccc", "#bdbdbd", "#d0d0d0",
                     "#8a8a8a", "#7a7a7a", "#6e6e6e", "#5e5e5e"]

panels = [
    ("A. Precipitation (Pre-Match)", "Std. Diff.", precip_pre_units, precip_pre_colors,
     precip_pre_mean, (-3.4, 5.4), [-2, 0, 2, 4]),
    ("B. Precipitation (Matched)", "Std. Diff.", precip_match_units, precip_match_colors,
     precip_match_mean, (-3.4, 5.4), [-2, 0, 2, 4]),
    ("C. Temperature (Pre-Match)", "Std. Diff", temp_pre_units, temp_pre_colors,
     temp_pre_mean, (-2.65, 1.68), [-2, -1, 0, 1]),
    ("D. Temperature (Matched)", "Std. Diff", temp_match_units, temp_match_colors,
     temp_match_mean, (-2.65, 1.68), [-2, -1, 0, 1]),
]

W, H = 429, 440
fig = plt.figure(figsize=(W / 100, H / 100), dpi=100)
# axes boxes in pixel coordinates: (left, top, right, bottom)
boxes = [(26, 16, 200, 192), (254, 16, 427, 192),
         (26, 245, 200, 418), (254, 245, 427, 419)]
title_pos = [(2, 10.5), (228, 10.5), (2, 238), (227, 238)]

for (title, ylab, units, colors, mean, ylim, yt), box, tp in zip(panels, boxes, title_pos):
    l, t, r, b = box
    ax = fig.add_axes([l / W, 1 - b / H, (r - l) / W, (b - t) / H])
    for vals, c in zip(units, colors):
        ax.plot(time, vals, color=c, lw=0.7, zorder=2)
    ax.axhline(0, color="#ff2020", lw=1.1, ls=(0, (4, 2.5)), zorder=3)
    ax.plot(time, mean, color="black", lw=1.4, zorder=4)
    span = time[-1] - time[0]
    ax.set_xlim(time[0] - 0.05 * span, time[-1] + 0.05 * span)
    ax.set_ylim(*ylim)
    ax.set_xticks(x_ticks)
    ax.set_yticks(yt)
    ax.tick_params(labelsize=5.6, colors="#444444", length=2, width=0.5, pad=1.2)
    for s in ("top", "right"):
        ax.spines[s].set_visible(False)
    for s in ("left", "bottom"):
        ax.spines[s].set_linewidth(0.7)
        ax.spines[s].set_color("#222222")
    ax.set_xlabel("Time", fontsize=6.5)
    ax.set_ylabel(ylab, fontsize=6.5)
    ax.xaxis.set_label_coords(0.5, -0.07)
    ax.yaxis.set_label_coords(-0.096, 0.5)
    fig.text(tp[0] / W, 1 - tp[1] / H, title, fontsize=8.7, fontweight="bold",
             ha="left", va="baseline")

fig.savefig("out.png", dpi=100)
